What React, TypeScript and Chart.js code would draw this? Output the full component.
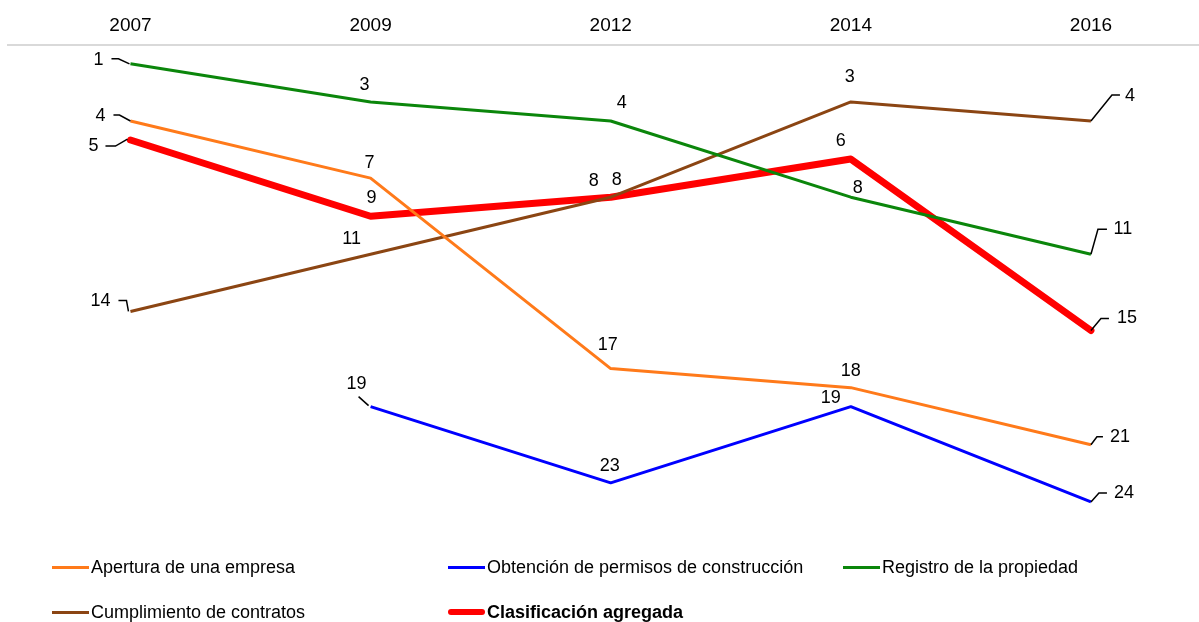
import React, { useEffect, useRef } from "react";
import { Chart, registerables } from "chart.js";

Chart.register(...registerables);

const years = ["2007", "2009", "2012", "2014", "2016"];
const apertura = [4, 7, 17, 18, 21];
const permisos = [null, 19, 23, 19, 24];
const registro = [1, 3, 4, 8, 11];
const contratos = [14, 11, 8, 3, 4];
const agregada = [5, 9, 8, 6, 15];

const seriesNames = [
  "Apertura de una empresa",
  "Obtención de permisos de construcción",
  "Registro de la propiedad",
  "Cumplimiento de contratos",
  "Clasificación agregada",
];
const seriesColors = ["#FF7A1A", "#0000FF", "#0B860B", "#8B4513", "#FF0000"];
const seriesWidths = [3, 3, 3, 3, 7];

// label placement (pixel offsets from the point) and optional leader paths
type LabelPos = { dx: number; dy: number; leader?: number[][] } | null;
const labelLayout: LabelPos[][] = [
  [
    { dx: -30, dy: -5, leader: [[-17, -6], [-11, -6], [0, 0]] },
    { dx: -1, dy: -15 },
    { dx: -3, dy: -24 },
    { dx: 0, dy: -17 },
    { dx: 29, dy: -8, leader: [[0, 0], [6, -8], [12, -8]] },
  ],
  [
    null,
    { dx: -14, dy: -23, leader: [[-12, -10], [-2, -1]] },
    { dx: -1, dy: -17 },
    { dx: -20, dy: -9 },
    { dx: 33, dy: -9, leader: [[0, 0], [8, -9], [16, -9]] },
  ],
  [
    { dx: -32, dy: -4, leader: [[-19, -5], [-12, -5], [-1, 0]] },
    { dx: -6, dy: -17 },
    { dx: 11, dy: -18 },
    { dx: 7, dy: -9 },
    { dx: 32, dy: -25, leader: [[0, 0], [7, -25], [16, -25]] },
  ],
  [
    { dx: -30, dy: -10, leader: [[-12, -11], [-4, -11], [-2, 0]] },
    { dx: -19, dy: -15 },
    { dx: 6, dy: -17 },
    { dx: -1, dy: -25 },
    { dx: 39, dy: -25, leader: [[0, 0], [21, -26], [29, -26]] },
  ],
  [
    { dx: -37, dy: 6, leader: [[-25, 6], [-15, 6], [-3, -1]] },
    { dx: 1, dy: -18 },
    { dx: -17, dy: -16 },
    { dx: -10, dy: -18 },
    { dx: 36, dy: -12, leader: [[0, 0], [10, -12], [18, -12]] },
  ],
];

const FONT = '"Liberation Sans", Arial, sans-serif';

const labelPlugin = {
  id: "pointLabels",
  afterDatasetsDraw(chart: any) {
    const ctx = chart.ctx;
    ctx.save();
    ctx.font = `18px ${FONT}`;
    ctx.textAlign = "center";
    ctx.textBaseline = "middle";
    chart.data.datasets.forEach((ds: any, di: number) => {
      const meta = chart.getDatasetMeta(di);
      meta.data.forEach((pt: any, i: number) => {
        const v = ds.data[i]?.y;
        const lay = labelLayout[di][i];
        if (v === null || v === undefined || !lay) return;
        const px = pt.x;
        const py = pt.y;
        if (lay.leader) {
          ctx.strokeStyle = "#000";
          ctx.lineWidth = 1.5;
          ctx.beginPath();
          lay.leader.forEach(([lx, ly], k) => {
            if (k === 0) ctx.moveTo(px + lx, py + ly);
            else ctx.lineTo(px + lx, py + ly);
          });
          ctx.stroke();
        }
        ctx.fillStyle = "#000";
        ctx.fillText(String(v), px + lay.dx, py + lay.dy);
      });
    });
    ctx.restore();
  },
};

export default function App() {
  const canvasRef = useRef<HTMLCanvasElement | null>(null);

  useEffect(() => {
    document.body.style.margin = "0";
    const allSeries = [apertura, permisos, registro, contratos, agregada];
    const chart = new Chart(canvasRef.current as HTMLCanvasElement, {
      type: "line",
      data: {
        datasets: allSeries.map((s, si) => ({
          label: seriesNames[si],
          data: s.map((v, i) => ({ x: i, y: v })),
          borderColor: seriesColors[si],
          backgroundColor: seriesColors[si],
          borderWidth: seriesWidths[si],
          pointRadius: 0,
          tension: 0,
          spanGaps: false,
          borderJoinStyle: "round",
          borderCapStyle: si === 4 ? "round" : "butt",
          clip: false,
        })) as any,
      },
      options: {
        animation: false,
        responsive: false,
        devicePixelRatio: 1,
        layout: { padding: { top: 6, left: 8, right: 0, bottom: 82 } },
        plugins: { legend: { display: false }, tooltip: { enabled: false } },
        scales: {
          x: {
            type: "linear",
            position: "top",
            min: -0.51,
            max: 4.45,
            afterBuildTicks: (axis: any) => {
              axis.ticks = years.map((_, i) => ({ value: i }));
            },
            grid: { display: false, drawTicks: false },
            border: { display: true, color: "#D9D9D9", width: 2 },
            ticks: {
              padding: 8,
              color: "#000",
              font: { size: 19, family: FONT },
              maxRotation: 0,
              autoSkip: false,
              callback: (v: any) => years[v as number] ?? "",
            },
          },
          y: {
            display: false,
            reverse: true,
            min: 0,
            max: 26,
          },
        },
      },
      plugins: [labelPlugin],
    });
    return () => chart.destroy();
  }, []);

  const legendItems = [
    { idx: 0, left: 52, top: 567 },
    { idx: 1, left: 448, top: 567 },
    { idx: 2, left: 843, top: 567 },
    { idx: 3, left: 52, top: 612 },
    { idx: 4, left: 448, top: 612 },
  ];

  return (
    <div style={{ position: "relative", width: 1199, height: 622 }}>
      <canvas ref={canvasRef} width={1199} height={622} />
      {legendItems.map((it) => (
        <div
          key={it.idx}
          style={{
            position: "absolute",
            left: it.left,
            top: it.top - 11,
            height: 22,
            display: "flex",
            alignItems: "center",
            fontFamily: FONT,
            fontSize: 18,
            color: "#000",
            fontWeight: it.idx === 4 ? "bold" : "normal",
            whiteSpace: "nowrap",
          }}
        >
          <span
            style={{
              display: "inline-block",
              width: 37,
              height: it.idx === 4 ? 6 : 3,
              background: seriesColors[it.idx],
              borderRadius: it.idx === 4 ? 3 : 0,
              marginRight: 2,
            }}
          />
          <span>{seriesNames[it.idx]}</span>
        </div>
      ))}
    </div>
  );
}
